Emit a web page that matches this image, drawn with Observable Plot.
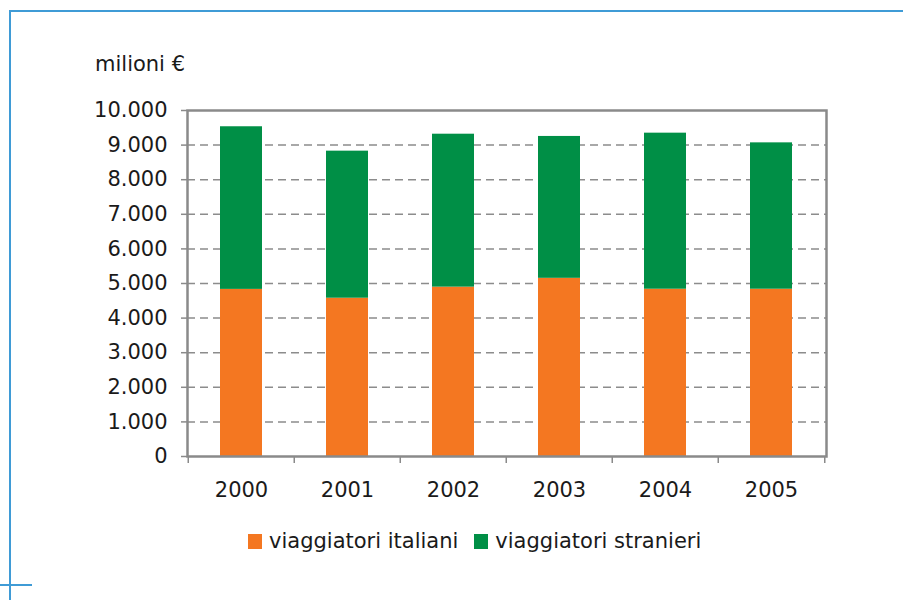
<!DOCTYPE html>
<html>
<head>
<meta charset="utf-8">
<script src="https://cdn.jsdelivr.net/npm/d3@7"></script>
<script src="https://cdn.jsdelivr.net/npm/@observablehq/plot@0.6"></script>
<style>
  html, body { margin: 0; padding: 0; background: #fff; }
  #wrap { position: relative; width: 903px; height: 600px; overflow: hidden; font-family: "DejaVu Sans", Verdana, sans-serif; color: #1a1a1a; }
  .bline { position: absolute; background: #3f9bd6; }
  #ylabel { position: absolute; left: 95px; top: 54px; font-size: 21px; line-height: 1; white-space: nowrap; }
  #legend { position: absolute; left: 248px; top: 531px; display: flex; align-items: center; font-size: 21px; line-height: 1; white-space: nowrap; }
  #legend .item { display: flex; align-items: center; margin-right: 16px; }
  #legend .sw { width: 14px; height: 15px; margin-right: 7px; }
  #chart { position: absolute; left: 0; top: 0; }
</style>
</head>
<body>
<div id="wrap">
  <div id="chart"></div>
  <div class="bline" style="left:9px; top:10px; width:894px; height:2px;"></div>
  <div class="bline" style="left:9px; top:10px; width:2px; height:590px;"></div>
  <div class="bline" style="left:0px; top:584px; width:32px; height:2px;"></div>
  <div id="ylabel">milioni €</div>
  <div id="legend"></div>
</div>
<script>
const years = ["2000", "2001", "2002", "2003", "2004", "2005"];
const italiani = [4830, 4575, 4895, 5150, 4835, 4835];
const stranieri = [4700, 4250, 4420, 4100, 4510, 4230];
const seriesNames = ["viaggiatori italiani", "viaggiatori stranieri"];
const seriesColors = ["#f47721", "#008f46"];
const yTicks = [0, 1000, 2000, 3000, 4000, 5000, 6000, 7000, 8000, 9000, 10000];

const rows = [];
years.forEach((y, i) => {
  rows.push({year: y, series: seriesNames[0], value: italiani[i]});
  rows.push({year: y, series: seriesNames[1], value: stranieri[i]});
});

const fmt = d3.formatLocale({decimal: ",", thousands: ".", grouping: [3], currency: ["", "€"]}).format(",");

const W = 903, H = 600, mL = 187, mR = 77, mT = 110, mB = 144;
const step = (W - mL - mR) / years.length;

const chart = Plot.plot({
  width: W, height: H,
  marginLeft: mL, marginRight: mR, marginTop: mT, marginBottom: mB,
  style: {fontFamily: "DejaVu Sans, Verdana, sans-serif", fontSize: "21px", color: "#1a1a1a", background: "transparent", overflow: "visible"},
  x: {domain: years, paddingInner: 0.6, paddingOuter: 0.3, axis: null},
  y: {domain: [0, 10000], axis: null},
  color: {domain: seriesNames, range: seriesColors},
  marks: [
    Plot.gridY(yTicks.slice(1, -1), {stroke: "#8c8c8c", strokeOpacity: 1, strokeWidth: 1.5, strokeDasharray: "8,5"}),
    Plot.barY(rows, {x: "year", y: "value", fill: "series"}),
    Plot.axisY(yTicks, {tickSize: 6, tickPadding: 14, tickFormat: fmt, stroke: "#8a8a8a", strokeWidth: 1.5, fill: "#1a1a1a", label: null}),
    Plot.axisX(years, {tickSize: 0, tickPadding: 26, fill: "#1a1a1a", label: null}),
    Plot.axisX(years, {tickSize: 7, tickFormat: () => "", dx: -step / 2, stroke: "#8a8a8a", strokeWidth: 1.5, label: null}),
    Plot.axisX([years[years.length - 1]], {tickSize: 7, tickFormat: () => "", dx: step / 2, stroke: "#8a8a8a", strokeWidth: 1.5, label: null}),
    Plot.frame({stroke: "#8a8a8a", strokeWidth: 2.5})
  ]
});
document.getElementById("chart").appendChild(chart);

const legend = document.getElementById("legend");
seriesNames.forEach((name, i) => {
  const item = document.createElement("div");
  item.className = "item";
  const sw = document.createElement("div");
  sw.className = "sw";
  sw.style.background = seriesColors[i];
  const t = document.createElement("span");
  t.textContent = name;
  item.appendChild(sw);
  item.appendChild(t);
  legend.appendChild(item);
});
</script>
</body>
</html>
